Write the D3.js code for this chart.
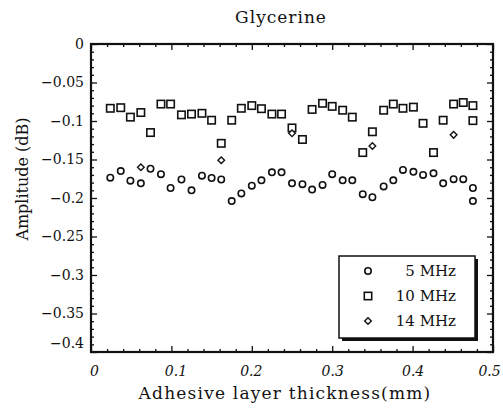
<!DOCTYPE html>
<html><head><meta charset="utf-8">
<script src="https://cdn.jsdelivr.net/npm/d3@7"></script>
<style>body{margin:0;background:#fff}svg{display:block}text{font-family:"DejaVu Serif",serif;fill:#111}</style>
</head><body><svg id="c" width="503" height="415"></svg>
<script>
const thickness = [0.024,0.037,0.049,0.062,0.074,0.087,0.099,0.1125,0.125,0.138,0.15,0.162,0.175,0.187,0.2,0.212,0.225,0.237,0.25,0.263,0.275,0.288,0.3,0.313,0.325,0.338,0.35,0.364,0.376,0.388,0.401,0.413,0.426,0.438,0.451,0.463,0.475,0.475];
const amp5MHz = [-0.1736,-0.165,-0.1775,-0.181,-0.162,-0.169,-0.187,-0.176,-0.190,-0.171,-0.174,-0.176,-0.204,-0.194,-0.184,-0.177,-0.1667,-0.1667,-0.181,-0.182,-0.189,-0.183,-0.169,-0.177,-0.177,-0.195,-0.199,-0.185,-0.177,-0.1636,-0.166,-0.170,-0.168,-0.181,-0.1755,-0.1755,-0.187,-0.204];
const amp10MHz = [-0.0835,-0.0827,-0.095,-0.089,-0.115,-0.078,-0.078,-0.092,-0.091,-0.090,-0.099,-0.129,-0.099,-0.0835,-0.080,-0.084,-0.091,-0.091,-0.109,-0.124,-0.085,-0.077,-0.081,-0.086,-0.095,-0.141,-0.114,-0.086,-0.078,-0.0835,-0.082,-0.103,-0.141,-0.099,-0.078,-0.076,-0.080,-0.0995];
const thickness14 = [0.062,0.162,0.25,0.35,0.451];
const amp14MHz = [-0.160,-0.151,-0.116,-0.1325,-0.118];
const xTicks = [0,0.1,0.2,0.3,0.4,0.5];
const yTicks = [0,-0.05,-0.1,-0.15,-0.2,-0.25,-0.3,-0.35,-0.4];
const legendLabels = ["5 MHz","10 MHz","14 MHz"];

const svg = d3.select("#c");
const L=91,R=493,T=44,B=352;
const x = d3.scaleLinear().domain([0,0.5]).range([L,R]);
const y = d3.scaleLinear().domain([-0.4,0]).range([B,T]);
const fmtY = v => v===0 ? "0" : "\u2212" + d3.format("")(Math.abs(v));
const fmtX = v => v===0 ? "0" : String(v);

const xMinor = d3.range(0,0.5001,0.02).filter(v=>Math.abs(v*10-Math.round(v*10))>1e-6);
const yMinor = d3.range(0,-0.4001,-0.01).filter(v=>Math.abs(v*20-Math.round(v*20))>1e-6);

function noDomain(g){g.select(".domain").remove();g.selectAll("line").attr("stroke","#111").attr("stroke-width",1.3);}
// bottom
svg.append("g").attr("transform",`translate(0,${B})`).call(d3.axisBottom(x).tickValues(xTicks).tickFormat(fmtX).tickSize(-6).tickPadding(14))
 .call(noDomain).call(g=>{g.selectAll("text").attr("font-size",14).attr("font-style","italic").attr("fill","#111");
   g.selectAll(".tick").filter(d=>d===0).select("text").attr("dx",3);
   g.selectAll(".tick").filter(d=>d===0.1).select("text").attr("dx",4);
   g.selectAll(".tick").filter(d=>d===0.2).select("text").attr("dx",-1);
   g.selectAll(".tick").filter(d=>d===0.5).select("text").attr("dx",-4);});
svg.append("g").attr("transform",`translate(0,${B})`).call(d3.axisBottom(x).tickValues(xMinor).tickFormat("").tickSize(-3)).call(noDomain);
// top
svg.append("g").attr("transform",`translate(0,${T})`).call(d3.axisTop(x).tickValues(xTicks).tickFormat("").tickSize(-6)).call(noDomain);
svg.append("g").attr("transform",`translate(0,${T})`).call(d3.axisTop(x).tickValues(xMinor).tickFormat("").tickSize(-3)).call(noDomain);
// left
svg.append("g").attr("transform",`translate(${L},0)`).call(d3.axisLeft(y).tickValues(yTicks).tickFormat(fmtY).tickSize(-6).tickPadding(7))
 .call(noDomain).call(g=>{g.selectAll("text").attr("font-size",14).attr("fill","#111");
   g.selectAll(".tick").filter(d=>d===-0.4).select("text").attr("dy","-0.35em");});
svg.append("g").attr("transform",`translate(${L},0)`).call(d3.axisLeft(y).tickValues(yMinor).tickFormat("").tickSize(-3)).call(noDomain);
// right
svg.append("g").attr("transform",`translate(${R},0)`).call(d3.axisRight(y).tickValues(yTicks).tickFormat("").tickSize(-6)).call(noDomain);
svg.append("g").attr("transform",`translate(${R},0)`).call(d3.axisRight(y).tickValues(yMinor).tickFormat("").tickSize(-3)).call(noDomain);

// frame
svg.append("rect").attr("x",L).attr("y",T).attr("width",R-L).attr("height",B-T).attr("fill","none").attr("stroke","#111").attr("stroke-width",2.2);

// data
const g = svg.append("g").attr("fill","none").attr("stroke","#111");
g.selectAll("circle.s5").data(thickness.map((t,i)=>[t,amp5MHz[i]])).join("circle")
 .attr("cx",d=>x(d[0])).attr("cy",d=>y(d[1])).attr("r",3.2).attr("stroke-width",1.6).attr("fill","#fff");
g.selectAll("rect.s10").data(thickness.map((t,i)=>[t,amp10MHz[i]])).join("rect")
 .attr("x",d=>x(d[0])-3.7).attr("y",d=>y(d[1])-3.7).attr("width",7.4).attr("height",7.4).attr("stroke-width",1.6).attr("fill","#fff");
const diamond = (cx,cy,s)=>`M${cx},${cy-s}L${cx+s},${cy}L${cx},${cy+s}L${cx-s},${cy}Z`;
g.selectAll("path.s14").data(thickness14.map((t,i)=>[t,amp14MHz[i]])).join("path")
 .attr("d",d=>diamond(x(d[0]),y(d[1]),3.3)).attr("stroke-width",1.4).attr("fill","#fff");

// legend
const lg = svg.append("g");
lg.append("rect").attr("x",342).attr("y",259).attr("width",136).attr("height",82).attr("fill","#111");
lg.append("rect").attr("x",339).attr("y",256).attr("width",136).attr("height",82).attr("fill","#fff").attr("stroke","#111").attr("stroke-width",1.5);
const ly = [271,296,321];
lg.append("circle").attr("cx",368).attr("cy",ly[0]).attr("r",3.2).attr("fill","#fff").attr("stroke","#111").attr("stroke-width",1.6);
lg.append("rect").attr("x",368-3.7).attr("y",ly[1]-3.7).attr("width",7.4).attr("height",7.4).attr("fill","#fff").attr("stroke","#111").attr("stroke-width",1.6);
lg.append("path").attr("d",diamond(368,ly[2],3.3)).attr("fill","#fff").attr("stroke","#111").attr("stroke-width",1.4);
legendLabels.forEach((t,i)=>lg.append("text").attr("x",456).attr("y",ly[i]).attr("dy","0.36em").attr("text-anchor","end").attr("font-size",15).text(t));

// titles
svg.append("text").attr("x",281).attr("y",23).attr("text-anchor","middle").attr("font-size",17).attr("letter-spacing",1).text("Glycerine");
svg.append("text").attr("x",285).attr("y",399).attr("text-anchor","middle").attr("font-size",17).attr("letter-spacing",1.2).text("Adhesive layer thickness(mm)");
svg.append("text").attr("transform","translate(28,179) rotate(-90)").attr("text-anchor","middle").attr("font-size",16).text("Amplitude (dB)");
</script></body></html>
